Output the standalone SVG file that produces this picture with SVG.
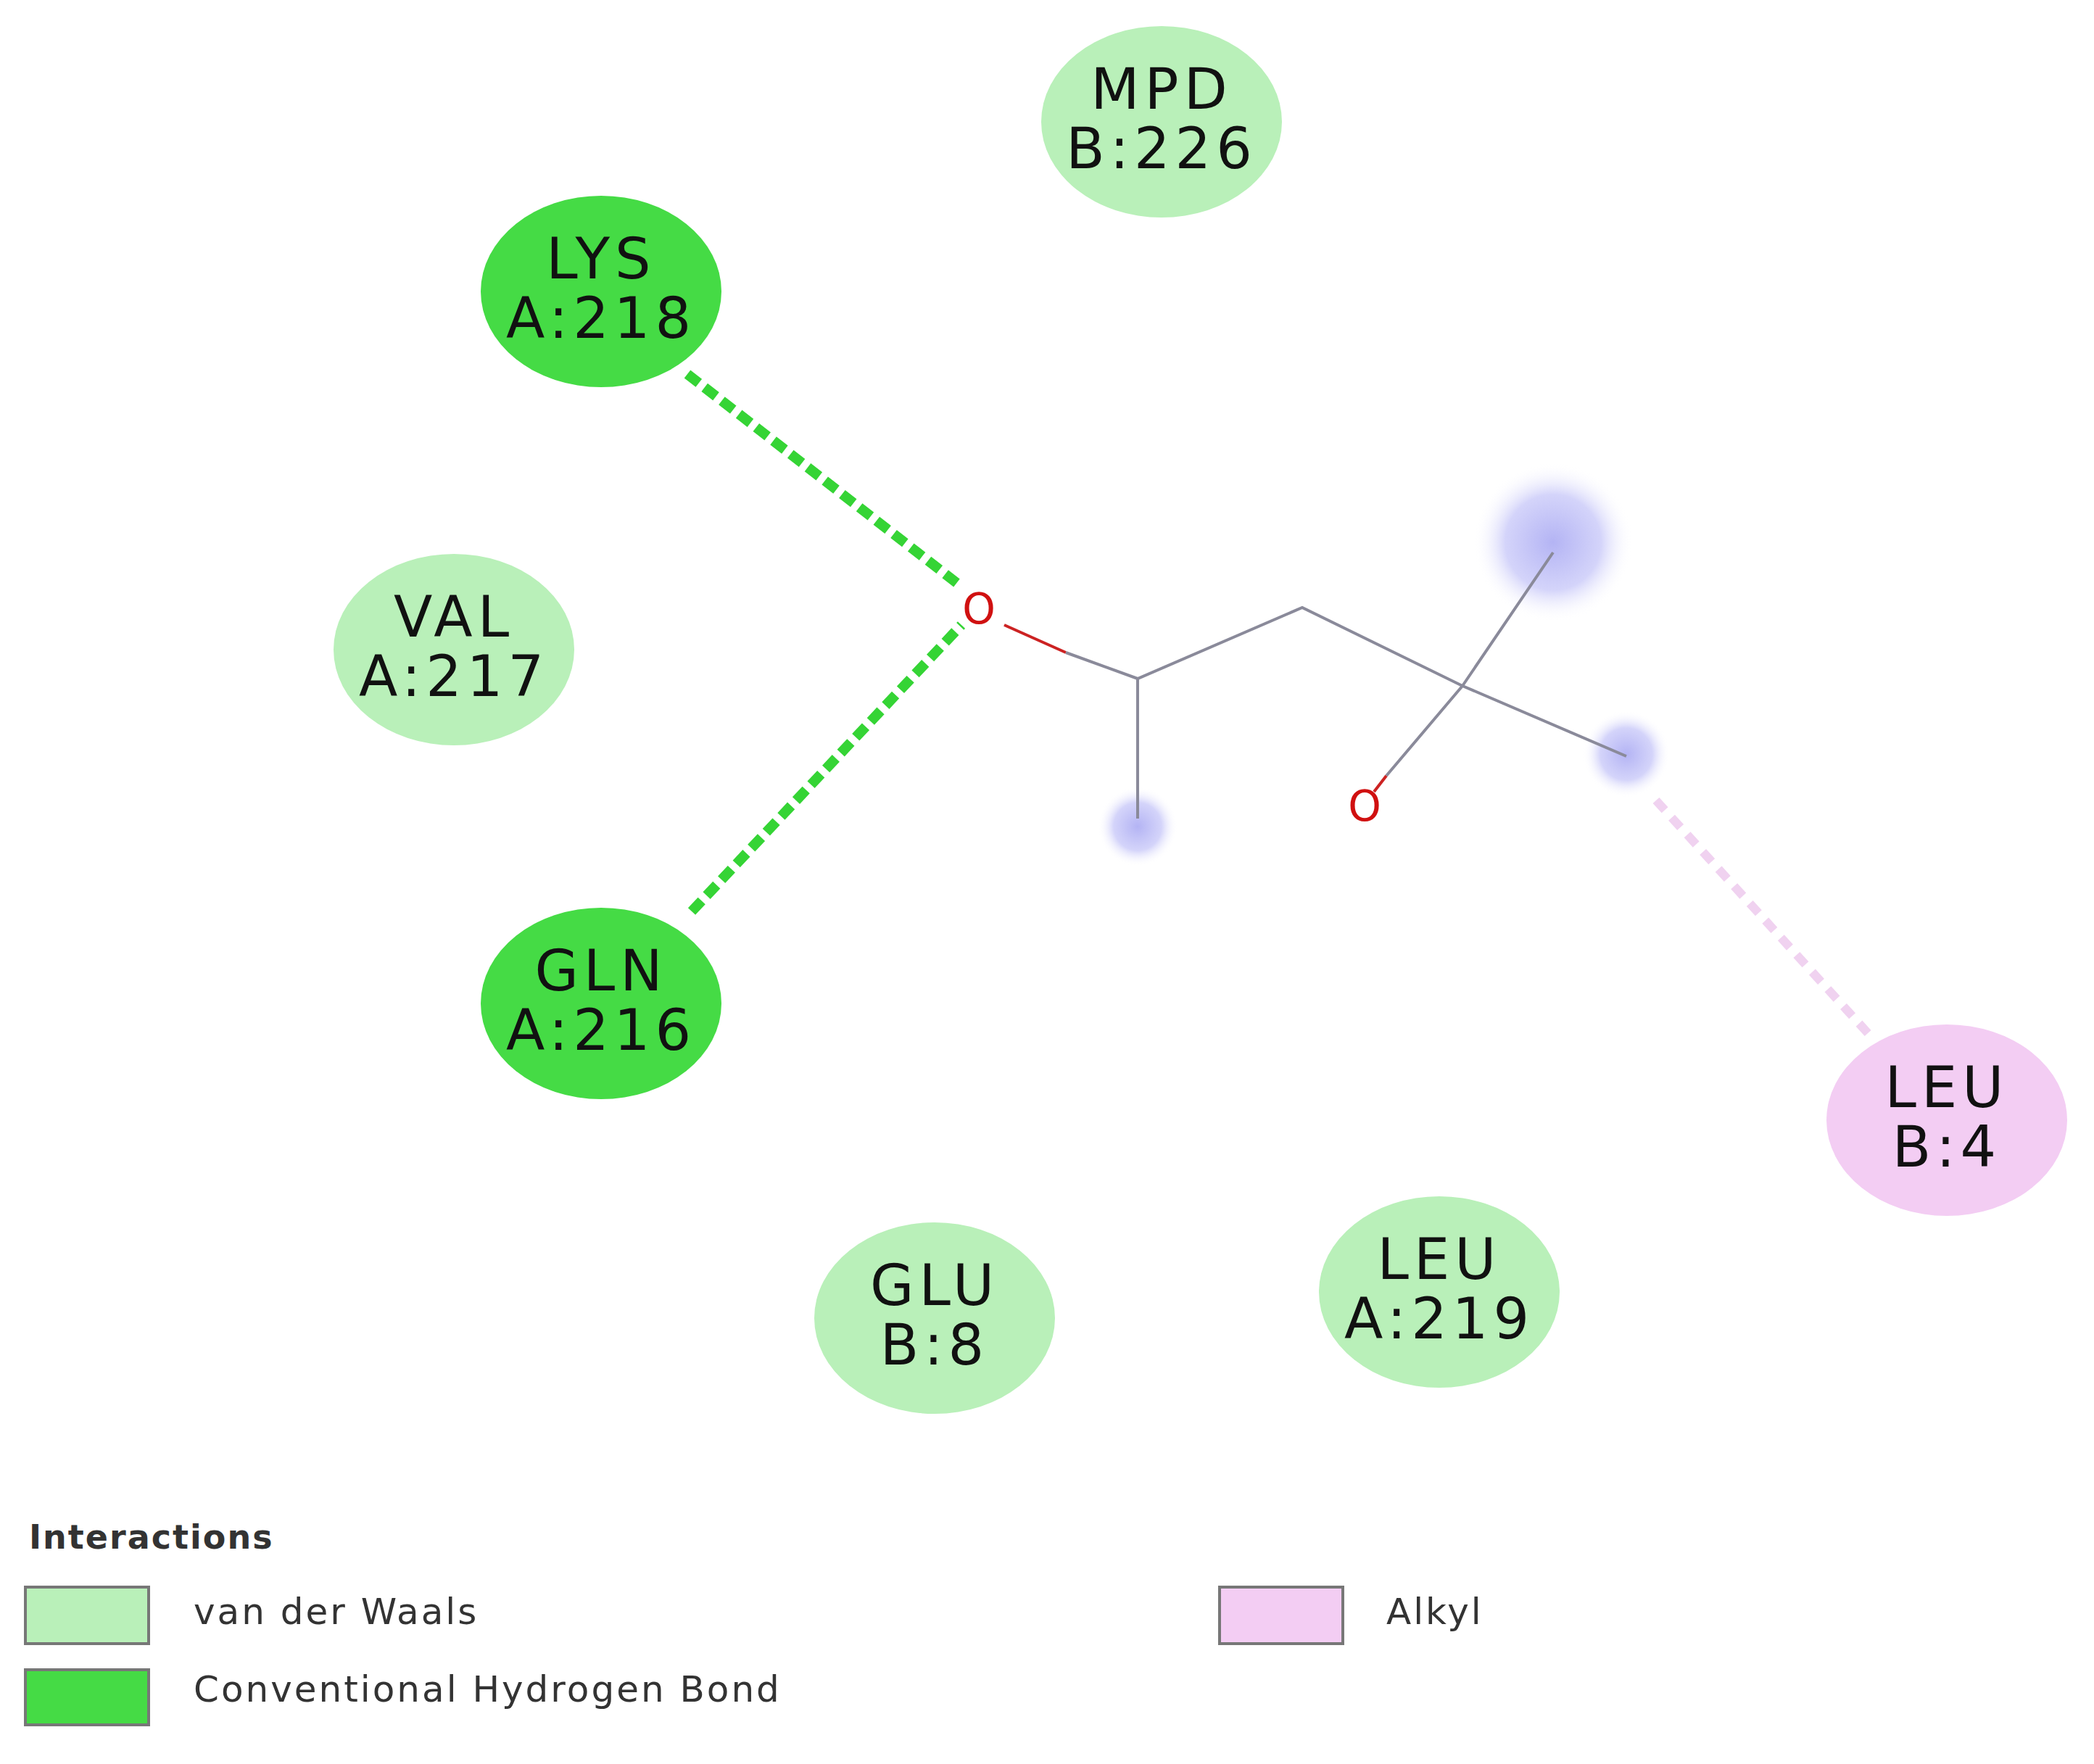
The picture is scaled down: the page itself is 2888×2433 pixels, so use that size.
<svg xmlns="http://www.w3.org/2000/svg" width="2888" height="2433" viewBox="0 0 2888 2433">
<defs>
<radialGradient id="glow"><stop offset="0" stop-color="#b4b4f4"/><stop offset="0.6" stop-color="#d4d4fa"/><stop offset="1" stop-color="#ffffff" stop-opacity="0"/></radialGradient>
<style>
.vdw{fill:#b9f0b9}
.hb{fill:#45db45}
.alk{fill:#f3cdf3}
.lbl{font-family:"DejaVu Sans",sans-serif;font-size:78px;fill:#111;text-anchor:middle;letter-spacing:7px}
.leg{font-family:"DejaVu Sans",sans-serif;font-size:50px;fill:#333;letter-spacing:3px}
.bond{stroke:#8a8a9a;stroke-width:4;fill:none}
.ob{stroke:#cc2222;stroke-width:4;fill:none}
.otx{font-family:"DejaVu Sans",sans-serif;font-size:58px;fill:#d01010;text-anchor:middle}
</style>
</defs>
<rect width="2888" height="2433" fill="#fff"/>
<g id="glows">
<circle cx="2142" cy="748" r="110" fill="url(#glow)"/>
<circle cx="2243" cy="1040" r="60" fill="url(#glow)"/>
<circle cx="1569" cy="1140" r="55" fill="url(#glow)"/>
</g>
<g id="connectors">
<line x1="948" y1="516" x2="1326" y2="809" stroke="#35d435" stroke-width="14" stroke-dasharray="20 10"/>
<line x1="954" y1="1257" x2="1326" y2="862" stroke="#35d435" stroke-width="14" stroke-dasharray="20 10"/>
<line x1="2284" y1="1104" x2="2578" y2="1427" stroke="#f0d2f0" stroke-width="12" stroke-dasharray="18 14"/>
</g>
<g id="ligand">
<path class="ob" d="M1385 862 L1470 900"/>
<path class="bond" d="M1470 900 L1569 936 L1796 838 L2017 946 L2243 1043 M2017 946 L2142 762 M1569 936 L1569 1129 M2017 946 L1912 1070"/>
<path class="ob" d="M1912 1070 L1895 1092"/>
<text class="otx" x="1350" y="860">O</text>
<text class="otx" x="1882" y="1132">O</text>
</g>
<g id="MPD"><ellipse class="vdw" cx="1602" cy="168" rx="166" ry="132"/><text class="lbl" x="1602" y="150">MPD</text><text class="lbl" x="1602" y="232">B:226</text></g>
<g id="LYS"><ellipse class="hb" cx="829" cy="402" rx="166" ry="132"/><text class="lbl" x="829" y="384">LYS</text><text class="lbl" x="829" y="466">A:218</text></g>
<g id="VAL"><ellipse class="vdw" cx="626" cy="896" rx="166" ry="132"/><text class="lbl" x="626" y="878">VAL</text><text class="lbl" x="626" y="960">A:217</text></g>
<g id="GLN"><ellipse class="hb" cx="829" cy="1384" rx="166" ry="132"/><text class="lbl" x="829" y="1366">GLN</text><text class="lbl" x="829" y="1448">A:216</text></g>
<g id="GLU"><ellipse class="vdw" cx="1289" cy="1818" rx="166" ry="132"/><text class="lbl" x="1289" y="1800">GLU</text><text class="lbl" x="1289" y="1882">B:8</text></g>
<g id="LEUA"><ellipse class="vdw" cx="1985" cy="1782" rx="166" ry="132"/><text class="lbl" x="1985" y="1764">LEU</text><text class="lbl" x="1985" y="1846">A:219</text></g>
<g id="LEUB"><ellipse class="alk" cx="2685" cy="1545" rx="166" ry="132"/><text class="lbl" x="2685" y="1527">LEU</text><text class="lbl" x="2685" y="1609">B:4</text></g>
<g id="legend">
<text x="40" y="2136" font-family="DejaVu Sans,sans-serif" font-size="46" font-weight="bold" fill="#333" letter-spacing="2">Interactions</text>
<rect x="35" y="2189" width="170" height="78" fill="#b9f0b9" stroke="#777" stroke-width="4"/>
<rect x="35" y="2303" width="170" height="76" fill="#45db45" stroke="#777" stroke-width="4"/>
<rect x="1682" y="2189" width="170" height="78" fill="#f3cdf3" stroke="#777" stroke-width="4"/>
<text class="leg" x="267" y="2240">van der Waals</text>
<text class="leg" x="267" y="2347">Conventional Hydrogen Bond</text>
<text class="leg" x="1912" y="2240">Alkyl</text>
</g>
</svg>
